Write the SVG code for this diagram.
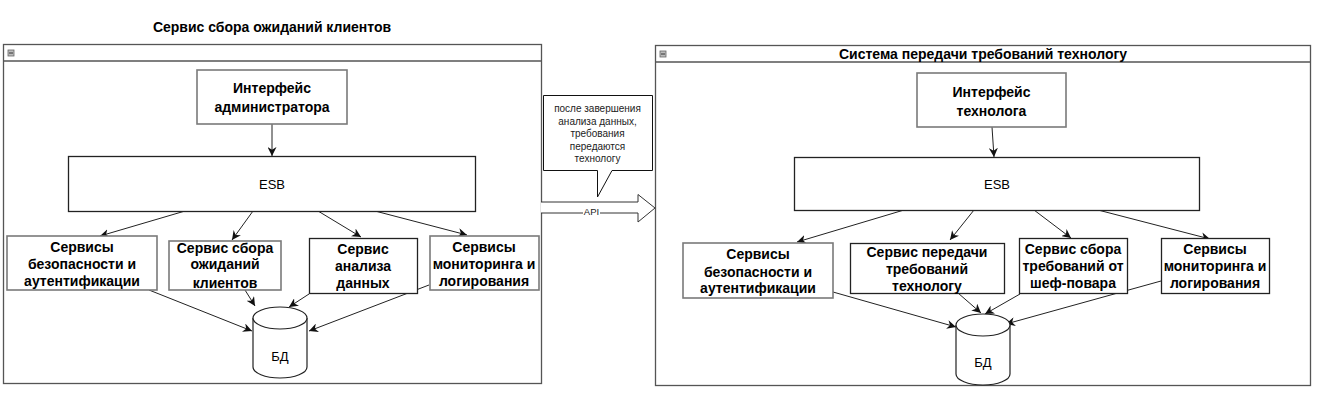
<svg xmlns="http://www.w3.org/2000/svg" width="1339" height="412" viewBox="0 0 1339 412">
<style>
text{font-family:"Liberation Sans",Arial,sans-serif;fill:#000}
.b{font-weight:bold;font-size:14px;text-anchor:middle}
.t{font-weight:bold;font-size:14px;text-anchor:middle}
.n{font-size:13px;text-anchor:middle}
.s{font-size:10px;text-anchor:middle;fill:#222}
.cont{fill:#fff;stroke:#555;stroke-width:1.3}
.hdr{stroke:#555;stroke-width:1.3}
.box{fill:#fff;stroke:#222;stroke-width:1.3}
.gbox{fill:#fff;stroke:#7a7a7a;stroke-width:1.6}
.c{stroke:#222;stroke-width:1;fill:none;marker-end:url(#arr)}
.db{fill:#fff;stroke:#222;stroke-width:1.2}
.mi{fill:#bbb;stroke:#666;stroke-width:0.8}
</style>
<defs>
<marker id="arr" viewBox="0 0 10 10" refX="10" refY="5" markerWidth="9" markerHeight="9" markerUnits="userSpaceOnUse" orient="auto">
<path d="M0,0 L10,5 L0,10 L3,5 z" fill="#111"/>
</marker>
</defs>
<rect width="1339" height="412" fill="#fff"/>

<g id="left-container">
<text class="t" x="272" y="32">Сервис сбора ожиданий клиентов</text>
<rect class="cont" x="3.5" y="44.5" width="538" height="339"/>
<line class="hdr" x1="3.5" y1="61" x2="541.5" y2="61"/>
<rect class="mi" x="8" y="50" width="6" height="6"/>
<line x1="9" y1="53" x2="13" y2="53" stroke="#333" stroke-width="1"/>
</g>

<g id="right-container">
<rect class="cont" x="655.5" y="45.5" width="655" height="340"/>
<line class="hdr" x1="655.5" y1="62" x2="1310.5" y2="62"/>
<rect class="mi" x="660" y="51" width="6" height="6"/>
<line x1="661" y1="54" x2="665" y2="54" stroke="#333" stroke-width="1"/>
<text class="t" x="983" y="59">Система передачи требований технологу</text>
</g>

<g id="connectors">
<line class="c" x1="272" y1="124" x2="272" y2="156"/>
<line class="c" x1="185" y1="211" x2="100" y2="236"/>
<line class="c" x1="253" y1="211" x2="232" y2="240"/>
<line class="c" x1="318" y1="211" x2="361" y2="237"/>
<line class="c" x1="375" y1="211" x2="467" y2="235"/>
<line class="c" x1="149" y1="290" x2="252" y2="331"/>
<line class="c" x1="245" y1="290" x2="255" y2="306"/>
<line class="c" x1="309" y1="294" x2="289" y2="307"/>
<line class="c" x1="429" y1="285" x2="309" y2="331"/>

<line class="c" x1="992" y1="127" x2="994" y2="157"/>
<line class="c" x1="904" y1="210" x2="797" y2="242"/>
<line class="c" x1="974" y1="210" x2="950" y2="240"/>
<line class="c" x1="1034" y1="210" x2="1071" y2="238"/>
<line class="c" x1="1098" y1="210" x2="1210" y2="239"/>
<line class="c" x1="833" y1="292" x2="956" y2="327"/>
<line class="c" x1="958" y1="293" x2="981" y2="313"/>
<line class="c" x1="1020" y1="294" x2="985" y2="314"/>
<line class="c" x1="1161" y1="281" x2="1006" y2="324"/>

<g id="api-arrow">
<path d="M541,202 H638 V194.5 L655,208 L638,222 V213 H541" fill="#fff" stroke="#333" stroke-width="1"/>
<rect x="583" y="207" width="17" height="10" fill="#fff"/>
<text x="591.5" y="214.5" style="font-size:9.5px;text-anchor:middle;fill:#222">API</text>
</g>
</g>

<g id="callout">
<path d="M543.5,95.5 H652.5 V170.5 H612 L597.5,197 V170.5 H543.5 Z" fill="#fff" stroke="#111" stroke-width="1"/>
<text class="s" x="597.5" y="112">после завершения</text>
<text class="s" x="597.5" y="124.5">анализа данных,</text>
<text class="s" x="597.5" y="137">требования</text>
<text class="s" x="597.5" y="149.5">передаются</text>
<text class="s" x="597.5" y="162">технологу</text>
</g>

<g id="admin-ui">
<rect class="gbox" x="197" y="70" width="150" height="54"/>
<text class="b" x="272" y="93">Интерфейс</text>
<text class="b" x="272" y="112">администратора</text>
</g>
<g id="esb-left">
<rect class="box" x="68.5" y="156.5" width="407" height="55"/>
<text class="n" x="272" y="189">ESB</text>
</g>
<g id="sec-left">
<rect class="gbox" x="7" y="236" width="150" height="54"/>
<text class="b" x="82" y="252">Сервисы</text>
<text class="b" x="82" y="269">безопасности и</text>
<text class="b" x="82" y="286">аутентификации</text>
</g>
<g id="collect-left">
<rect class="gbox" x="169" y="241" width="112" height="49"/>
<text class="b" x="225" y="253">Сервис сбора</text>
<text class="b" x="225" y="269">ожиданий</text>
<text class="b" x="225" y="288">клиентов</text>
</g>
<g id="analysis-left">
<rect class="box" x="309.5" y="238.5" width="108" height="55"/>
<text class="b" x="363" y="254">Сервис</text>
<text class="b" x="363" y="271">анализа</text>
<text class="b" x="363" y="288">данных</text>
</g>
<g id="mon-left">
<rect class="gbox" x="430" y="236" width="109" height="54"/>
<text class="b" x="484" y="252">Сервисы</text>
<text class="b" x="484" y="269">мониторинга и</text>
<text class="b" x="484" y="286">логирования</text>
</g>
<g id="db-left">
<path class="db" d="M253,318 A27,11 0 0 1 307,318 V367 A27,11 0 0 1 253,367 Z"/>
<path class="db" d="M253,318 A27,11 0 0 0 307,318" fill="none"/>
<text class="n" x="280" y="361">БД</text>
</g>

<g id="tech-ui">
<rect class="gbox" x="917" y="73" width="149" height="54"/>
<text class="b" x="991.5" y="97">Интерфейс</text>
<text class="b" x="991.5" y="116">технолога</text>
</g>
<g id="esb-right">
<rect class="box" x="794.5" y="157.5" width="405" height="53"/>
<text class="n" x="997" y="189">ESB</text>
</g>
<g id="sec-right">
<rect class="gbox" x="683" y="243" width="150" height="55"/>
<text class="b" x="758" y="259">Сервисы</text>
<text class="b" x="758" y="277">безопасности и</text>
<text class="b" x="758" y="293">аутентификации</text>
</g>
<g id="transfer-right">
<rect class="box" x="850.5" y="243.5" width="154" height="50"/>
<text class="b" x="927" y="257">Сервис передачи</text>
<text class="b" x="927" y="274">требований</text>
<text class="b" x="927" y="291">технологу</text>
</g>
<g id="chef-right">
<rect class="box" x="1019.5" y="238.5" width="108" height="55"/>
<text class="b" x="1073" y="254">Сервис сбора</text>
<text class="b" x="1073" y="271">требований от</text>
<text class="b" x="1073" y="288">шеф-повара</text>
</g>
<g id="mon-right">
<rect class="box" x="1161.5" y="238.5" width="108" height="55"/>
<text class="b" x="1215" y="254">Сервисы</text>
<text class="b" x="1215" y="271">мониторинга и</text>
<text class="b" x="1215" y="288">логирования</text>
</g>
<g id="db-right">
<path class="db" d="M956,325 A27,11 0 0 1 1010,325 V374 A27,11 0 0 1 956,374 Z"/>
<path class="db" d="M956,325 A27,11 0 0 0 1010,325" fill="none"/>
<text class="n" x="983" y="367">БД</text>
</g>
</svg>
